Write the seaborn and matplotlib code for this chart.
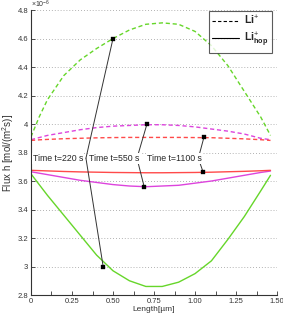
import matplotlib
matplotlib.use('Agg')
import matplotlib.pyplot as plt
import seaborn as sns
import numpy as np
import pandas as pd
from matplotlib.ticker import MultipleLocator
from matplotlib.lines import Line2D

# posição ao longo do comprimento [µm]
length = [0, 0.05, 0.1, 0.2, 0.3, 0.4, 0.5, 0.6, 0.7, 0.8, 0.9, 1.0, 1.1, 1.2, 1.3, 1.4, 1.46]

# Li+ (tracejado), valores x1e-6
li_220 = [3.91, 4.05, 4.17, 4.34, 4.45, 4.53, 4.60, 4.66, 4.70, 4.71, 4.70, 4.65, 4.55, 4.41, 4.23, 4.05, 3.92]
li_550 = [3.89, 3.905, 3.92, 3.94, 3.96, 3.975, 3.985, 3.99, 3.995, 3.995, 3.99, 3.98, 3.965, 3.95, 3.93, 3.90, 3.89]
li_1100 = [3.885, 3.889, 3.892, 3.897, 3.90, 3.903, 3.905, 3.906, 3.906, 3.906, 3.906, 3.905, 3.904, 3.90, 3.896, 3.89, 3.885]

# Li+ hop (contínuo)
hop_220 = [3.65, 3.575, 3.50, 3.36, 3.22, 3.08, 2.97, 2.90, 2.86, 2.86, 2.89, 2.95, 3.04, 3.19, 3.35, 3.53, 3.64]
hop_550 = [3.665, 3.655, 3.645, 3.625, 3.605, 3.59, 3.575, 3.565, 3.56, 3.565, 3.57, 3.585, 3.60, 3.62, 3.64, 3.66, 3.67]
hop_1100 = [3.675, 3.673, 3.671, 3.667, 3.664, 3.662, 3.66, 3.659, 3.658, 3.658, 3.659, 3.66, 3.662, 3.665, 3.668, 3.672, 3.675]

# marcadores das anotações
mark_x = [0.50, 0.44, 0.707, 0.69, 1.055, 1.05]
mark_y = [4.60, 3.00, 4.00, 3.56, 3.91, 3.66]
labels = ['Time t=220 s', 'Time t=550 s', 'Time t=1100 s']

x_ticks = [0, 0.25, 0.5, 0.75, 1.0, 1.25, 1.5]
x_ticklabels = ['0', '0.25', '0.50', '0.75', '1.00', '1.25', '1.50']
y_ticks = [2.8, 3.0, 3.2, 3.4, 3.6, 3.8, 4.0, 4.2, 4.4, 4.6, 4.8]
y_ticklabels = ['2.8', '3', '3.2', '3.4', '3.6', '3.8', '4', '4.2', '4.4', '4.6', '4.8']

green = '#66d62a'
magenta = '#dd44dd'
red = '#ff4a4a'

sns.set_style('white')
plt.rcParams['font.family'] = ['Liberation Sans', 'DejaVu Sans']
plt.rcParams['mathtext.fontset'] = 'custom'
plt.rcParams['mathtext.rm'] = 'Liberation Sans'
plt.rcParams['mathtext.bf'] = 'Liberation Sans:bold'

fig = plt.figure(figsize=(2.83, 3.14), dpi=100)
ax = fig.add_axes([0.1095, 0.0605, 0.8695, 0.9075])

for serie, cor, estilo in [(li_220, green, (0, (3, 2))), (li_550, magenta, (0, (3, 2))),
                           (li_1100, red, (0, (3, 2))), (hop_220, green, '-'),
                           (hop_550, magenta, '-'), (hop_1100, red, '-')]:
    sns.lineplot(x=length, y=serie, ax=ax, color=cor, lw=1.0, linestyle=estilo)

# linhas das anotações
anchors = [(0.335, 3.76), (0.646, 3.76), (1.02, 3.76)]
text_x = [0.012, 0.355, 0.705]
for i, (ax_, ay_) in enumerate(anchors):
    for j in (2 * i, 2 * i + 1):
        ax.plot([ax_, mark_x[j]], [ay_, mark_y[j]], color='#333333', lw=0.7, zorder=4)
    ax.text(text_x[i], 3.76, labels[i], fontsize=6.3, va='center', ha='left', zorder=5,
            bbox=dict(facecolor='white', edgecolor='none', pad=0.8))
sns.scatterplot(x=mark_x, y=mark_y, ax=ax, marker='s', s=9, color='black', edgecolor='black', zorder=6)

ax.set_xlim(0, 1.5)
ax.set_ylim(2.8, 4.8)
ax.set_xticks(x_ticks)
ax.set_xticklabels(x_ticklabels)
ax.xaxis.set_minor_locator(MultipleLocator(0.125))
ax.set_yticks(y_ticks)
ax.set_yticklabels(y_ticklabels)
ax.tick_params(axis='both', which='major', direction='in', length=3, width=0.6,
               labelsize=5.5, colors='#333333', left=True, bottom=True, pad=2)
ax.tick_params(axis='x', which='minor', direction='in', length=3, width=0.6, bottom=True, colors='#333333')
for s in ['top', 'right']:
    ax.spines[s].set_visible(False)
for s in ['left', 'bottom']:
    ax.spines[s].set_color('#333333')
    ax.spines[s].set_linewidth(0.8)
ax.yaxis.grid(True, linestyle=(0, (1, 2.5)), color='#999999', lw=0.6)
ax.set_axisbelow(True)

ax.set_xlabel('Length[µm]', fontsize=6, color='#333333', labelpad=1)
ax.set_ylabel('Flux h [mol/(m$^2$s)]', fontsize=7, color='#333333', labelpad=1.5)
ax.text(0.0, 1.0, r'$\times10^{-6}$', transform=ax.transAxes, fontsize=5, color='#333333',
        ha='left', va='bottom')

handles = [Line2D([], [], color='black', lw=0.8, linestyle=(0, (3, 2))),
           Line2D([], [], color='black', lw=0.8)]
leg = ax.legend(handles, [r'$\mathbf{Li}^{+}$', r'$\mathbf{Li}^{+}_{\mathbf{hop}}$'], loc='upper right',
                bbox_to_anchor=(1.0, 1.015), fontsize=7.5, frameon=True, fancybox=False,
                handlelength=2.6, borderpad=0.3, labelspacing=0.3, handletextpad=0.5)
leg.get_frame().set_edgecolor('#333333')
leg.get_frame().set_linewidth(0.8)

plt.savefig('out.png', dpi=100)
plt.close()
